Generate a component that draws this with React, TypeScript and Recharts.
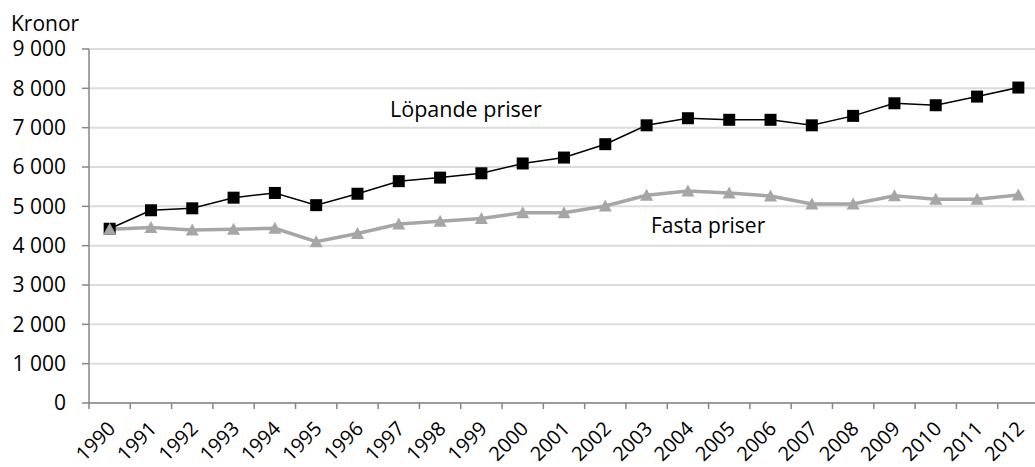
import { LineChart, Line, XAxis, YAxis, CartesianGrid } from "recharts";

// Data (kronor)
const years = [
  "1990", "1991", "1992", "1993", "1994", "1995", "1996", "1997", "1998", "1999", "2000", "2001",
  "2002", "2003", "2004", "2005", "2006", "2007", "2008", "2009", "2010", "2011", "2012",
];
const lopandePriser = [
  4430, 4900, 4950, 5220, 5340, 5030, 5320, 5640, 5730, 5840, 6090, 6240,
  6580, 7060, 7240, 7200, 7200, 7060, 7300, 7620, 7570, 7790, 8020,
];
const fastaPriser = [
  4420, 4460, 4400, 4420, 4440, 4100, 4310, 4550, 4620, 4690, 4840, 4840,
  5010, 5280, 5390, 5340, 5260, 5060, 5060, 5270, 5180, 5180, 5290,
];
const yTicks = [0, 1000, 2000, 3000, 4000, 5000, 6000, 7000, 8000, 9000];

const data = years.map((year, i) => ({
  year,
  lopande: lopandePriser[i],
  fasta: fastaPriser[i],
}));

const FONT = "'Open Sans', sans-serif";
const AXIS = "#868686";
const CHART_W = 1039;
const CHART_H = 467;
const Y_AXIS_W = 89;
const PLOT_W = CHART_W - Y_AXIS_W;
const BAND = PLOT_W / years.length;

const formatKr = (v: number) => String(v).replace(/\B(?=(\d{3})+(?!\d))/g, " ");

// Excel-style category axis: tick marks sit between categories
const YearTick = (props: any) => {
  const { x, y, payload } = props;
  const left = x - BAND / 2;
  return (
    <g>
      <line x1={left} y1={y} x2={left} y2={y + 6} stroke={AXIS} strokeWidth={1.5} />
      <g transform={`translate(${x + 7},${y + 27})`}>
        <text
          textAnchor="end"
          transform="rotate(-45)"
          fontFamily={FONT}
          fontSize={20}
          fill="#000"
        >
          {payload.value}
        </text>
      </g>
    </g>
  );
};

const SquareDot = (props: any) => {
  const { cx, cy } = props;
  if (cx == null || cy == null) return null;
  return <rect x={cx - 6} y={cy - 6} width={12} height={12} fill="#000" />;
};

const TriangleDot = (props: any) => {
  const { cx, cy } = props;
  if (cx == null || cy == null) return null;
  return (
    <polygon
      points={`${cx},${cy - 6.5} ${cx + 6.5},${cy + 5.5} ${cx - 6.5},${cy + 5.5}`}
      fill="#a6a6a6"
    />
  );
};

export default function App() {
  return (
    <div
      style={{
        position: "absolute",
        left: 0,
        top: 0,
        width: 1035,
        height: CHART_H,
        overflow: "hidden",
        background: "#fff",
        fontFamily: FONT,
      }}
    >
      <div
        style={{
          position: "absolute",
          left: 11,
          top: 9,
          fontSize: 21,
          lineHeight: "normal",
          color: "#000",
        }}
      >
        Kronor
      </div>
      <LineChart
        width={CHART_W}
        height={CHART_H}
        data={data}
        margin={{ top: 49, right: 0, bottom: 0, left: 0 }}
      >
        <CartesianGrid vertical={false} stroke="#dcdcdc" strokeWidth={2} />
        <XAxis
          dataKey="year"
          height={64}
          interval={0}
          padding={{ left: BAND / 2, right: BAND / 2 }}
          axisLine={{ stroke: AXIS, strokeWidth: 1.5 }}
          tickLine={false}
          tickSize={0}
          tickMargin={0}
          tick={<YearTick />}
        />
        <YAxis
          width={Y_AXIS_W}
          domain={[0, 9000]}
          ticks={yTicks}
          interval={0}
          tickFormatter={formatKr}
          axisLine={{ stroke: AXIS, strokeWidth: 1.5 }}
          tickLine={{ stroke: AXIS, strokeWidth: 1.5 }}
          tickSize={7}
          tickMargin={16}
          tick={{ fill: "#000", fontSize: 21, fontFamily: FONT }}
        />
        <Line
          dataKey="lopande"
          stroke="#000"
          strokeWidth={1.5}
          dot={<SquareDot />}
          activeDot={false}
          isAnimationActive={false}
        />
        <Line
          dataKey="fasta"
          stroke="#a6a6a6"
          strokeWidth={3.5}
          dot={<TriangleDot />}
          activeDot={false}
          isAnimationActive={false}
        />
      </LineChart>
      <svg
        width={1035}
        height={CHART_H}
        style={{ position: "absolute", left: 0, top: 0, pointerEvents: "none" }}
      >
        <text x={390} y={117} fontFamily={FONT} fontSize={21.5} fill="#000">
          Löpande priser
        </text>
        <text x={651} y={233} fontFamily={FONT} fontSize={21} fill="#000">
          Fasta priser
        </text>
      </svg>
    </div>
  );
}
